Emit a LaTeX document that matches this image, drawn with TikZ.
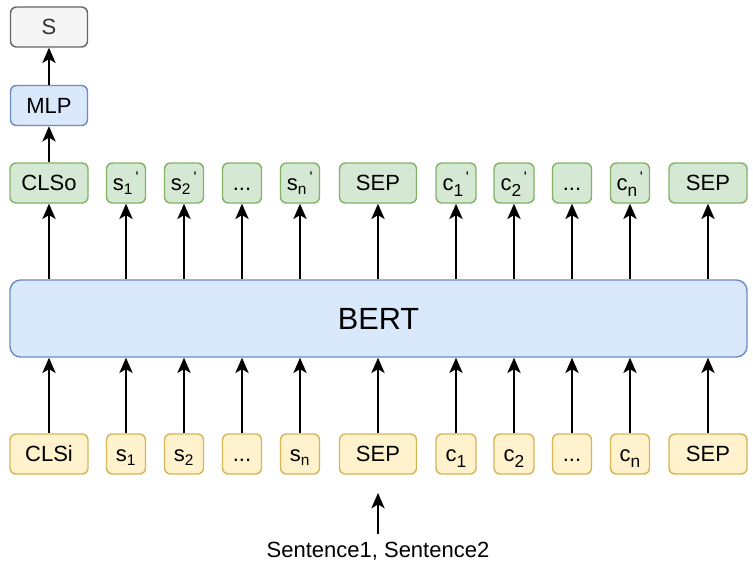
\documentclass[tikz,border=0pt]{standalone}
\usepackage{fontspec}
\setmainfont{Liberation Sans}
\usetikzlibrary{arrows.meta, positioning}
\definecolor{tokgreen}{HTML}{D5E8D4}
\definecolor{tokgreenline}{HTML}{82B366}
\definecolor{tokyellow}{HTML}{FFF2CC}
\definecolor{tokyellowline}{HTML}{D6B656}
\definecolor{bertblue}{HTML}{DAE8FC}
\definecolor{bertblueline}{HTML}{6C8EBF}
\definecolor{outgray}{HTML}{F5F5F5}
\definecolor{outgrayline}{HTML}{666666}
\newcommand{\prm}{\textsuperscript{\,\textquotesingle}}
\newcommand{\csub}[1]{\raisebox{-0.45ex}{\fontsize{13}{13}\selectfont #1}}

\tikzset{
  box/.style={draw, rounded corners=4.5pt, line width=1.1pt, inner sep=0pt,
    minimum height=30pt, text height=11.8pt, text depth=0pt,
    font=\fontsize{16.5}{18}\selectfont},
  outtok/.style={box, fill=tokgreen, draw=tokgreenline},
  intok/.style={box, fill=tokyellow, draw=tokyellowline},
  arr/.style={-{Stealth[length=11.5pt, width=10pt, inset=3pt]}, line width=1.4pt},
}

\begin{document}
\begin{tikzpicture}[x=0.75pt, y=-0.75pt]
    \useasboundingbox (0,0) rectangle (753,564);

    % Encoder
    \node[box, fill=bertblue, draw=bertblueline, rounded corners=8pt,
      minimum width=552.75pt, minimum height=57.75pt, text height=16.5pt,
      font=\fontsize{23}{26}\selectfont] (bert) at (378.5,318.5) {BERT};

    % Token rows (output on top, input below)
    \foreach \cx/\bw/\outlab/\inlab [count=\i] in {
        49/78/{CLSo}/{CLSi},
        126/39/{s\textsubscript{1}\prm}/{s\textsubscript{1}},
        184/39/{s\textsubscript{2}\prm}/{s\textsubscript{2}},
        242/39/{...}/{...},
        300/39/{s\textsubscript{n}\prm}/{s\textsubscript{n}},
        378/77/{SEP}/{SEP},
        456/40/{c\csub{1}\prm}/{c\csub{1}},
        514/40/{c\csub{2}\prm}/{c\csub{2}},
        572/39/{...}/{...},
        630/39/{c\csub{n}\prm}/{c\csub{n}},
        708/78/{SEP}/{SEP}} {
      \node[outtok, minimum width=\bw*0.75pt] (o\i) at (\cx,183) {\outlab};
      \node[intok, minimum width=\bw*0.75pt] (i\i) at (\cx,454) {\inlab};
      \draw[arr] (bert.north -| o\i) -- (o\i.south);
      \draw[arr] (i\i.north) -- (bert.south -| i\i);
    }

    % Head
    \node[box, fill=bertblue, draw=bertblueline, minimum width=57.75pt]
      (mlp) at (49,105.5) {MLP};
    \node[box, fill=outgray, draw=outgrayline, text=black!80, minimum width=57.75pt]
      (score) at (49,27) {S};
    \draw[arr] (o1) -- (mlp);
    \draw[arr] (mlp) -- (score);

    % Input text
    \node[font=\fontsize{16.5}{18}\selectfont, inner sep=6pt] (sent) at (378,551) {Sentence1, Sentence2};
    \coordinate (feed) at (378,493);
    \draw[arr] (sent.north) -- (feed);
\end{tikzpicture}
\end{document}
